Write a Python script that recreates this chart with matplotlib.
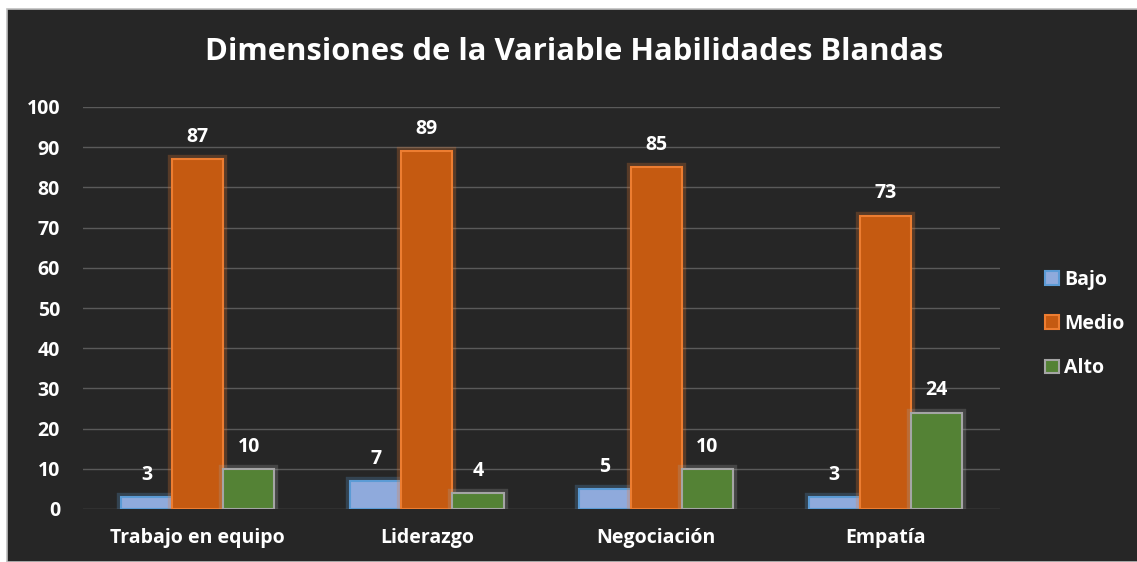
import numpy as np
import matplotlib
matplotlib.use("Agg")
import matplotlib.pyplot as plt
from matplotlib.patches import Rectangle
import matplotlib.patheffects as pe

plt.rcParams["font.family"] = ["Open Sans", "DejaVu Sans"]
plt.rcParams["font.weight"] = "bold"

categories = ["Trabajo en equipo", "Liderazgo", "Negociación", "Empatía"]
series = ["Bajo", "Medio", "Alto"]
bajo = [3, 7, 5, 3]
medio = [87, 89, 85, 73]
alto = [10, 4, 10, 24]

faces = ["#8FAADC", "#C55A11", "#548235"]
edges = ["#5B9BD5", "#ED7D31", "#A5A5A5"]
BG = "#262626"

W, H = 1137, 562
fig = plt.figure(figsize=(W / 100, H / 100), dpi=100, facecolor="white")
fig.patches.append(Rectangle((7 / W, 0), 1, 1 - 9 / H, transform=fig.transFigure,
                             facecolor=BG, edgecolor="#BFBFBF", lw=1.2, zorder=-10))

ax = fig.add_axes([83 / W, 1 - 509 / H, (1000 - 83) / W, (509 - 107) / H])
ax.set_zorder(1)
ax.patch.set_alpha(0)

x = np.arange(len(categories))
bw = 0.223
for i, (name, vals) in enumerate(zip(series, [bajo, medio, alto])):
    bars = ax.bar(x + (i - 1) * bw, vals, bw, color=faces[i], edgecolor=edges[i],
                  linewidth=1.5, label=name, zorder=3)
    for b in bars:
        b.set_path_effects([pe.Stroke(linewidth=6, foreground=edges[i], alpha=0.25),
                            pe.Normal()])
    for xi, v in zip(x + (i - 1) * bw, vals):
        ax.text(xi, v + 3, str(v), ha="center", va="bottom", color="white",
                fontsize=14, fontweight="bold", zorder=4)

ax.set_ylim(0, 100)
ax.set_xlim(-0.5, len(categories) - 0.5)
ax.set_yticks(range(0, 101, 10))
ax.set_xticks(x)
ax.set_xticklabels(categories, fontweight="bold")
ax.grid(axis="y", color="#5A5A5A", lw=1, zorder=0)
ax.tick_params(length=0, colors="white", labelsize=14)
ax.tick_params(axis="y", pad=16.5)
ax.tick_params(axis="x", pad=14)
for s in ax.spines.values():
    s.set_visible(False)

fig.text(0.5 + 6 / W, 1 - 52 / H, "Dimensiones de la Variable Habilidades Blandas",
         ha="center", va="center", color="white", fontsize=22.3, fontweight="bold")

leg = ax.legend(loc="center left", bbox_to_anchor=(1.03, 0.46), frameon=False,
                handlelength=0.7, handleheight=0.7,
                handletextpad=0.3, labelspacing=1.25, prop={"weight": "bold", "size": 14})
for t in leg.get_texts():
    t.set_color("white")
for h in leg.legend_handles:
    h.set_path_effects([])

fig.savefig("out.png", dpi=100, facecolor=fig.get_facecolor())
